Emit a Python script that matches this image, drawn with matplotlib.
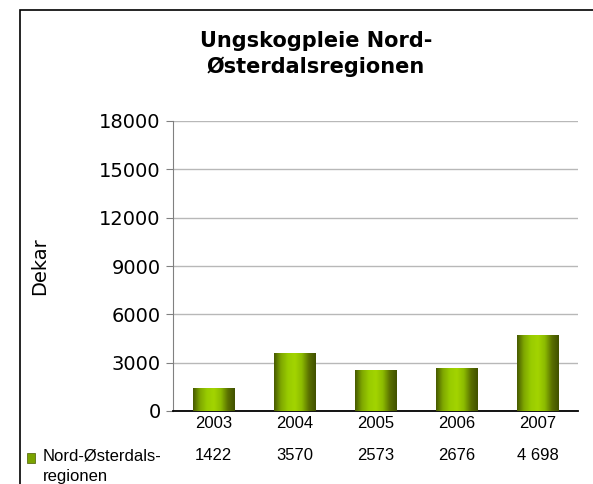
import numpy as np
import matplotlib.pyplot as plt
from matplotlib.patches import Rectangle
from matplotlib.colors import LinearSegmentedColormap
import matplotlib.transforms as mtransforms

years = ['2003', '2004', '2005', '2006', '2007']
values = [1422, 3570, 2573, 2676, 4698]
value_labels = ['1422', '3570', '2573', '2676', '4 698']
yticks = [0, 3000, 6000, 9000, 12000, 15000, 18000]

W, H = 593, 484
fig = plt.figure(figsize=(W / 100, H / 100), dpi=100)
fig.patch.set_facecolor('white')

# outer chart border (cut off on the right and bottom)
fig.patches.append(Rectangle((20 / W, -0.1), 1.2, 1 - 10 / H + 0.1,
                             transform=fig.transFigure, fill=False,
                             edgecolor='black', lw=1.2))

ax = fig.add_axes([173 / W, 1 - 411 / H, (578 - 173) / W, (411 - 121) / H])
x = np.arange(len(years))

cmap = LinearSegmentedColormap.from_list(
    'bar', ['#465800', '#7fa800', '#99cc00', '#a3d400', '#8cbb00', '#5a7000', '#405000'])
grad = np.linspace(0, 1, 256).reshape(1, -1)
bars = ax.bar(x, values, width=0.51, color='none', edgecolor='none', zorder=3)
for b in bars:
    x0, w, h = b.get_x(), b.get_width(), b.get_height()
    im = ax.imshow(grad, cmap=cmap, aspect='auto', extent=(x0, x0 + w, 0, h),
                   zorder=3, interpolation='bicubic')
    im.set_clip_path(b)
ax.set_xlim(-0.5, len(years) - 0.5)
ax.set_ylim(0, 18000)

ax.set_yticks(yticks)
ax.set_yticklabels([str(t) for t in yticks], fontsize=14, family='DejaVu Sans')
ax.yaxis.grid(True, color='#b8b8b8', lw=1)
ax.set_axisbelow(True)
ax.set_xticks([])
ax.tick_params(axis='y', length=5, color='#808080', pad=4)
for s in ['top', 'right']:
    ax.spines[s].set_visible(False)
ax.spines['left'].set_color('#808080')
ax.spines['bottom'].set_color('black')
ax.spines['bottom'].set_linewidth(1.3)

ax.set_ylabel('Dekar', fontsize=14, family='DejaVu Sans', labelpad=36)

# data table under the axis
trans = mtransforms.blended_transform_factory(ax.transData, fig.transFigure)
for i, (yr, lab) in enumerate(zip(years, value_labels)):
    ax.text(i, 1 - 424 / H, yr, transform=trans, ha='center', va='center',
            fontsize=12, family='Liberation Sans')
    ax.text(i, 1 - 456 / H, lab, transform=trans, ha='center', va='center',
            fontsize=12, family='Liberation Sans')
fig.patches.append(Rectangle((27 / W, 1 - 463 / H), 8 / W, 10 / H,
                             transform=fig.transFigure, facecolor='#7aa300',
                             edgecolor='#4a5c00', lw=0.5))
fig.text(43 / W, 1 - 456 / H, 'Nord-Østerdals-', ha='left', va='center',
         fontsize=12, family='Liberation Sans')
fig.text(43 / W, 1 - 477 / H, 'regionen', ha='left', va='center',
         fontsize=12, family='Liberation Sans')

fig.text(316 / W, 1 - 54 / H, 'Ungskogpleie Nord-\nØsterdalsregionen',
         ha='center', va='center', fontsize=15, fontweight='bold',
         family='DejaVu Sans', linespacing=1.35)

fig.savefig('out.png', dpi=100)
